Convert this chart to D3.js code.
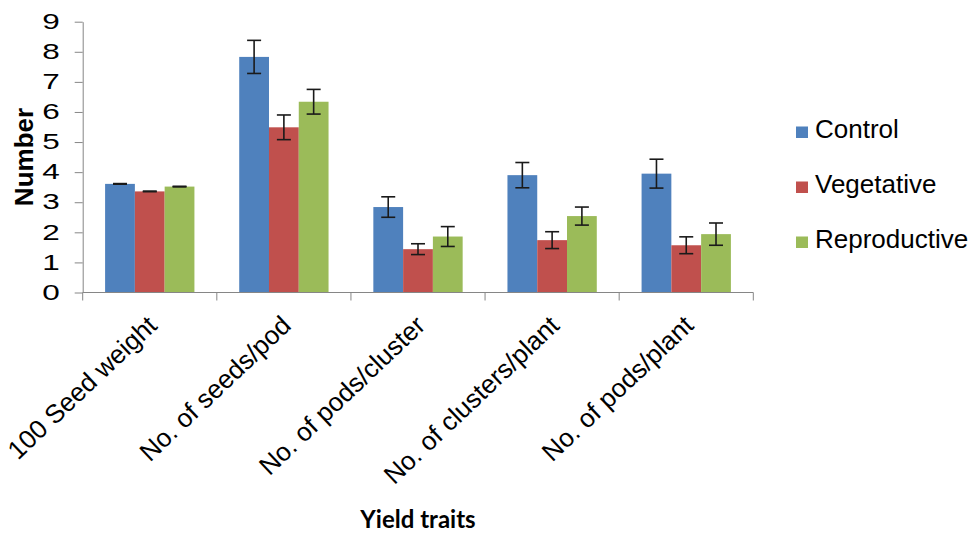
<!DOCTYPE html>
<html>
<head>
<meta charset="utf-8">
<script src="https://cdn.jsdelivr.net/npm/d3@7"></script>
<style>
  html, body { margin: 0; padding: 0; background: #fff; }
  svg { display: block; }
  text { font-family: "Liberation Sans", Arial, sans-serif; fill: #000; }
</style>
</head>
<body>
<svg id="chart" width="977" height="534"></svg>
<script>
const categories = ["100 Seed weight", "No. of seeds/pod", "No. of pods/cluster", "No. of clusters/plant", "No. of pods/plant"];
const seriesNames = ["Control", "Vegetative", "Reproductive"];
const control = [3.61, 7.83, 2.84, 3.90, 3.95];
const vegetative = [3.36, 5.49, 1.44, 1.74, 1.57];
const reproductive = [3.52, 6.34, 1.86, 2.54, 1.94];
const controlErr = [0.01, 0.55, 0.34, 0.42, 0.48];
const vegetativeErr = [0.01, 0.41, 0.18, 0.28, 0.28];
const reproductiveErr = [0.01, 0.41, 0.33, 0.30, 0.37];
const yTicks = [0, 1, 2, 3, 4, 5, 6, 7, 8, 9];
const colors = ["#4F81BD", "#C0504D", "#9BBB59"];

(function () {
const values = [control, vegetative, reproductive];
const errors = [controlErr, vegetativeErr, reproductiveErr];

const svg = d3.select("#chart");
const pLeft = 82.7, pRight = 753.3, pTop = 21.7, pBottom = 292.5;

const x0 = d3.scaleBand().domain(categories).range([pLeft, pRight]).paddingInner(0.334).paddingOuter(0.167);
const x1 = d3.scaleBand().domain(seriesNames).range([0, x0.bandwidth()]);
const y = d3.scaleLinear().domain([0, 9]).range([pBottom, pTop]);
const color = d3.scaleOrdinal().domain(seriesNames).range(colors);

const rows = [];
categories.forEach((c, i) => {
  seriesNames.forEach((s, j) => {
    rows.push({cat: c, series: s, value: values[j][i], err: errors[j][i]});
  });
});

// bars
svg.append("g").selectAll("rect").data(rows).join("rect")
  .attr("x", d => x0(d.cat) + x1(d.series))
  .attr("y", d => y(d.value))
  .attr("width", x1.bandwidth())
  .attr("height", d => y(0) - y(d.value))
  .attr("fill", d => color(d.series));

// error bars
const eg = svg.append("g").attr("stroke", "#1a1a1a").attr("stroke-width", 1.6);
rows.forEach(d => {
  const cx = x0(d.cat) + x1(d.series) + x1.bandwidth() / 2;
  const y1 = y(d.value + d.err), y2 = y(d.value - d.err);
  eg.append("line").attr("x1", cx).attr("x2", cx).attr("y1", y1).attr("y2", y2);
  eg.append("line").attr("x1", cx - 7).attr("x2", cx + 7).attr("y1", y1).attr("y2", y1);
  eg.append("line").attr("x1", cx - 7).attr("x2", cx + 7).attr("y1", y2).attr("y2", y2);
});

// y axis
const yAxis = svg.append("g").attr("transform", `translate(${pLeft},0)`)
  .call(d3.axisLeft(y).tickValues(yTicks).tickSize(8).tickSizeOuter(0).tickFormat(d3.format("d")));
yAxis.select(".domain").attr("stroke", "#868686");
yAxis.selectAll(".tick line").attr("stroke", "#868686");
yAxis.selectAll(".tick text")
  .attr("font-size", 22.5)
  .attr("font-family", "Liberation Sans, Arial, sans-serif")
  .attr("fill", "#000")
  .attr("transform", "scale(1.4,1)")
  .attr("x", -23 / 1.4)
  .attr("dy", "0.3em");

// x axis line and boundary ticks
const xg = svg.append("g").attr("stroke", "#868686").attr("stroke-width", 1);
xg.append("line").attr("x1", pLeft).attr("x2", pRight).attr("y1", pBottom).attr("y2", pBottom);
d3.range(categories.length + 1).forEach(i => {
  const bx = pLeft + i * x0.step();
  xg.append("line").attr("x1", bx).attr("x2", bx).attr("y1", pBottom).attr("y2", pBottom + 8);
});

// x labels
svg.append("g").selectAll("text").data(categories).join("text")
  .attr("transform", d => `translate(${x0(d) + x0.bandwidth() / 2 - 4},314) rotate(-43.5)`)
  .attr("text-anchor", "end")
  .attr("dy", "0.71em")
  .attr("font-size", 26)
  .text(d => d);

// axis titles
svg.append("text")
  .attr("transform", "translate(33,157) rotate(-90)")
  .attr("text-anchor", "middle")
  .attr("font-size", 26)
  .attr("font-weight", "bold")
  .text("Number");

svg.append("text")
  .attr("x", (pLeft + pRight) / 2)
  .attr("y", 528)
  .attr("text-anchor", "middle")
  .attr("font-size", 24)
  .attr("font-weight", "bold")
  .style("font-family", "Lato, 'Open Sans', sans-serif")
  .text("Yield traits");

// legend
const lg = svg.append("g");
seriesNames.forEach((s, i) => {
  const by = 138 + i * 55;
  lg.append("rect").attr("x", 796).attr("y", by - 11.5).attr("width", 12).attr("height", 11.5).attr("fill", colors[i]);
  lg.append("text").attr("x", 815).attr("y", by).attr("font-size", 26).text(s);
});
})();
</script>
</body>
</html>
